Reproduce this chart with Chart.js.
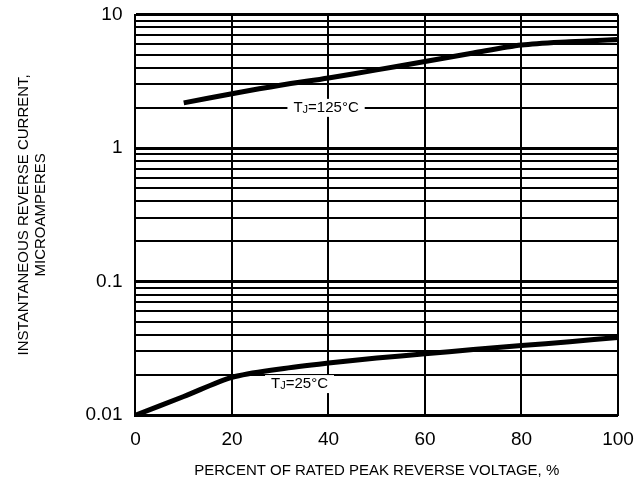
<!DOCTYPE html>
<html>
<head>
<meta charset="utf-8">
<script src="https://cdn.jsdelivr.net/npm/chart.js@4"></script>
<style>
  html, body { margin: 0; padding: 0; background: #fff; }
  #wrap { width: 643px; height: 484px; }
</style>
</head>
<body>
<div id="wrap"><canvas id="myChart"></canvas></div>
<script>
// x: percent of rated peak reverse voltage
const x125 = [10, 20, 30, 40, 50, 60, 70, 80, 90, 100];
const current125 = [2.18, 2.55, 2.95, 3.35, 3.85, 4.45, 5.15, 5.9, 6.25, 6.5];
const x25 = [0, 10, 20, 30, 40, 50, 60, 70, 80, 90, 100];
const current25 = [0.01, 0.0138, 0.0192, 0.0222, 0.0246, 0.0268, 0.0288, 0.031, 0.0332, 0.0355, 0.0382];

// log grid lines and labelled decades
const yGrid = [];
[0.01, 0.1, 1].forEach(d => { for (let m = 1; m < 10; m++) yGrid.push(+(d * m).toPrecision(2)); });
yGrid.push(10);
const yLabels = [0.01, 0.1, 1, 10];
const xTicks = [0, 20, 40, 60, 80, 100];

// curve labels: [text, x, y]
const curveLabels = [
    ['125°C', 39.5, 2],
    ['25°C', 34, 0.0171]
];

const font = '"Liberation Sans", Arial, sans-serif';

const labelPlugin = {
    id: 'curveLabels',
    afterDatasetsDraw(chart) {
        const ctx = chart.ctx;
        const xs = chart.scales.x, ys = chart.scales.y;
        const big = '15px ' + font, small = '11px ' + font;
        ctx.save();
        curveLabels.forEach(([t, vx, vy]) => {
            const px = xs.getPixelForValue(vx);
            const py = ys.getPixelForValue(vy);
            ctx.font = big;
            const wT = ctx.measureText('T').width;
            const wR = ctx.measureText('=' + t).width;
            ctx.font = small;
            const wJ = ctx.measureText('J').width;
            const w = wT + wJ + wR;
            ctx.fillStyle = '#fff';
            ctx.fillRect(px - w / 2 - 6, py - 9, w + 12, 18);
            ctx.fillStyle = '#000';
            ctx.textBaseline = 'middle';
            ctx.textAlign = 'left';
            let cx = px - w / 2;
            ctx.font = big;
            ctx.fillText('T', cx, py);
            cx += wT;
            ctx.font = small;
            ctx.fillText('J', cx, py + 2);
            cx += wJ;
            ctx.font = big;
            ctx.fillText('=' + t, cx, py);
        });
        ctx.restore();
    }
};

const ctx = document.getElementById('myChart').getContext('2d');
new Chart(ctx, {
    type: 'scatter',
    data: {
        datasets: [
            {
                data: x125.map((v, i) => ({ x: v, y: current125[i] })),
                showLine: true,
                borderColor: '#000',
                borderWidth: 5,
                pointRadius: 0,
                tension: 0.3
            },
            {
                data: x25.map((v, i) => ({ x: v, y: current25[i] })),
                showLine: true,
                borderColor: '#000',
                borderWidth: 5,
                pointRadius: 0,
                tension: 0.3
            }
        ]
    },
    options: {
        responsive: true,
        maintainAspectRatio: false,
        animation: false,
        layout: { padding: { top: 0, right: 25, bottom: 0, left: 11 } },
        plugins: { legend: { display: false }, tooltip: { enabled: false } },
        scales: {
            x: {
                type: 'linear',
                min: 0,
                max: 100,
                afterBuildTicks: s => { s.ticks = xTicks.map(v => ({ value: v })); },
                grid: { color: '#000', lineWidth: 2, drawTicks: true, tickLength: 10, tickColor: 'rgba(0,0,0,0)' },
                border: { color: '#000', width: 2 },
                ticks: { color: '#000', font: { family: font, size: 19 }, padding: 3 },
                title: {
                    display: true,
                    text: 'PERCENT OF RATED PEAK REVERSE VOLTAGE, %',
                    color: '#000',
                    font: { family: font, size: 15 },
                    padding: { top: 8, bottom: 4 }
                }
            },
            y: {
                type: 'logarithmic',
                min: 0.01,
                max: 10,
                afterBuildTicks: s => { s.ticks = yGrid.map(v => ({ value: v })); },
                grid: {
                    color: '#000',
                    lineWidth: c => yLabels.includes(c.tick && c.tick.value) ? 3 : 2,
                    drawTicks: true,
                    tickLength: 8,
                    tickColor: 'rgba(0,0,0,0)'
                },
                border: { color: '#000', width: 2 },
                ticks: {
                    color: '#000',
                    font: { family: font, size: 19, lineHeight: 1 },
                    padding: 5,
                    autoSkip: false,
                    callback: v => yLabels.includes(v) ? String(v) : ''
                },
                title: {
                    display: true,
                    text: ['INSTANTANEOUS REVERSE CURRENT,', 'MICROAMPERES'],
                    color: '#000',
                    font: { family: font, size: 15, lineHeight: 1.15 },
                    padding: { bottom: 31 }
                }
            }
        }
    },
    plugins: [labelPlugin]
});
</script>
</body>
</html>
